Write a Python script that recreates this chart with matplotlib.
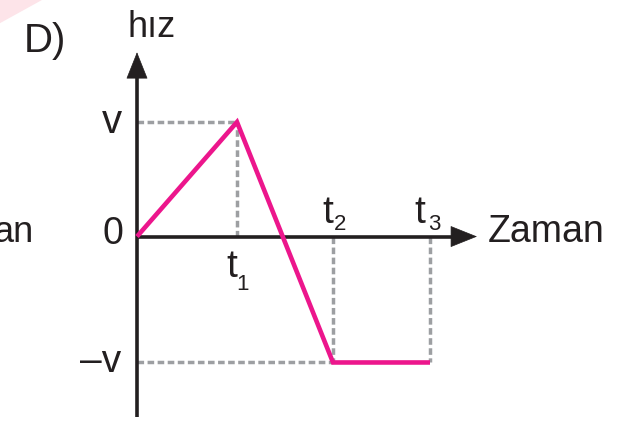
import matplotlib.pyplot as plt
from matplotlib.patches import Polygon

# velocity-time graph (panel D)
times = [0, 1.0, 1.96, 2.93]          # 0, t1, t2, t3
speeds = [0, 1.0, -1.1, -1.1]         # 0, v, -v, -v
t_labels = ["1", "2", "3"]
y_labels = ["v", "0", "\u2013v"]

ink = "#231f20"
pink = "#ec168c"
grey = "#9d9fa2"

plt.rcParams["font.family"] = ["Liberation Sans", "DejaVu Sans"]

fig = plt.figure(figsize=(6.17, 4.29), dpi=100)
ax = fig.add_axes([0, 0, 1, 1])
ax.set_xlim(-1.37, 4.80)
ax.set_ylim(-1.681, 2.066)
ax.axis("off")

# faint pink corner from the page behind
fig.patches.append(Polygon([[0, 1], [0.068, 1], [0, 0.946]], closed=True,
                           transform=fig.transFigure, color="#fde4e9", lw=0))

t1, t2, t3 = times[1], times[2], times[3]
v, mv = speeds[1], speeds[2]

# dashed guides
dash = dict(color=grey, lw=2.5, dashes=(1.9, 1.0), zorder=1)
ax.plot([0, t1], [v, v], **dash)
ax.plot([t1, t1], [0, v], **dash)
ax.plot([0, t2], [mv, mv], **dash)
ax.plot([t2, t2], [0, mv], **dash)
ax.plot([t3, t3], [0, mv], **dash)

# axes with arrows
ax.plot([0, 0], [-1.58, 1.45], color=ink, lw=2.6, zorder=2, solid_capstyle="butt")
ax.plot([0, 3.25], [0, 0], color=ink, lw=2.6, zorder=2, solid_capstyle="butt")
arr = dict(arrowstyle="-|>,head_length=0.9,head_width=0.36", color=ink, lw=0.5,
           shrinkA=0, shrinkB=0, mutation_scale=20)
ax.annotate("", xy=(0, 1.61), xytext=(0, 1.3), arrowprops=arr, zorder=3)
ax.annotate("", xy=(3.40, 0), xytext=(3.1, 0), arrowprops=arr, zorder=3)

# the velocity curve
ax.plot(times, speeds, color=pink, lw=3.3, zorder=4,
        solid_capstyle="butt", solid_joinstyle="miter")

# labels
ax.text(-0.25, v, y_labels[0], fontsize=29, color=ink, ha="center", va="center")
ax.text(-0.24, 0.02, y_labels[1], fontsize=27, color=ink, ha="center", va="center")
ax.text(-0.36, mv, y_labels[2], fontsize=28, color=ink, ha="center", va="center")

ax.text(t1 - 0.05, -0.35, "t", fontsize=28, color=ink, ha="center", va="baseline")
ax.text(t1 + 0.06, -0.47, t_labels[0], fontsize=16, color=ink, ha="center", va="baseline")
ax.text(t2 - 0.05, 0.12, "t", fontsize=28, color=ink, ha="center", va="baseline")
ax.text(t2 + 0.07, 0.06, t_labels[1], fontsize=16, color=ink, ha="center", va="baseline")
ax.text(t3 - 0.1, 0.12, "t", fontsize=28, color=ink, ha="center", va="baseline")
ax.text(t3 + 0.04, 0.06, t_labels[2], fontsize=16, color=ink, ha="center", va="baseline")

ax.text(3.51, -0.05, "Zaman", fontsize=27, color=ink, ha="left", va="baseline")
ax.text(-0.09, 1.74, "hız", fontsize=26, color=ink, ha="left", va="baseline")
ax.text(-1.13, 1.61, "D)", fontsize=29, color=ink, ha="left", va="baseline")
ax.text(-1.03, -0.05, "an", fontsize=26, color=ink, ha="right", va="baseline")

fig.savefig("out.png", dpi=100)
